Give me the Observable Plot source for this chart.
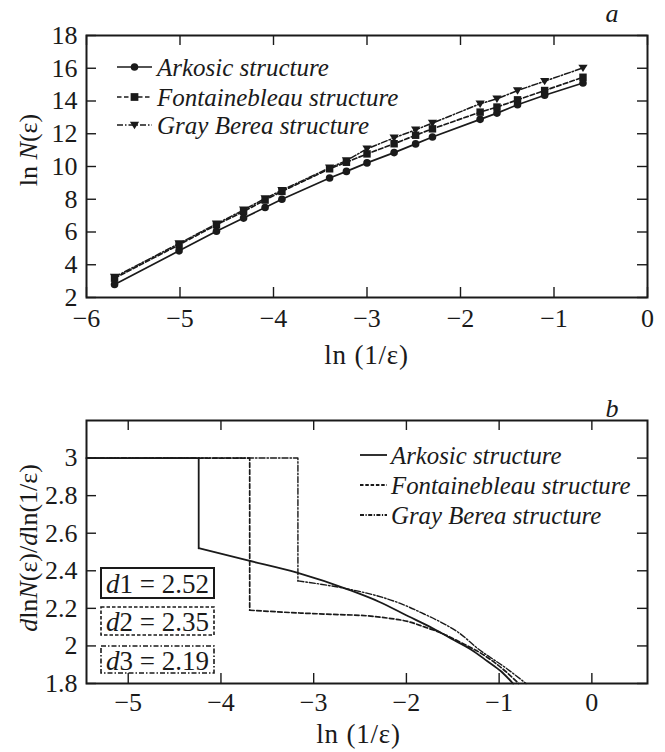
<!DOCTYPE html>
<html><head><meta charset="utf-8">
<script src="https://cdn.jsdelivr.net/npm/d3@7"></script>
<script src="https://cdn.jsdelivr.net/npm/@observablehq/plot@0.6"></script>
<style>
body{margin:0;background:#fff;}
#wrap{width:665px;}
svg{display:block;}
</style></head><body><div id="wrap"></div>
<script>
// ---------- Panel a data ----------
const lnInvEps = [-5.70, -5.01, -4.61, -4.32, -4.09, -3.91, -3.40, -3.22, -3.00, -2.71, -2.48, -2.30, -1.79, -1.61, -1.39, -1.10, -0.69];
const arkosicLnN = [2.80, 4.85, 6.05, 6.85, 7.50, 8.00, 9.30, 9.70, 10.22, 10.85, 11.38, 11.80, 12.88, 13.26, 13.77, 14.35, 15.10];
const fontaineLnN = [3.18, 5.22, 6.44, 7.25, 7.95, 8.48, 9.86, 10.26, 10.77, 11.39, 11.91, 12.30, 13.32, 13.63, 14.07, 14.64, 15.45];
const bereaLnN = [3.25, 5.30, 6.50, 7.35, 8.05, 8.55, 9.92, 10.36, 11.08, 11.75, 12.24, 12.65, 13.83, 14.13, 14.64, 15.21, 16.02];
const xTicksA = [-6, -5, -4, -3, -2, -1, 0];
const yTicksA = [2, 4, 6, 8, 10, 12, 14, 16, 18];

// ---------- Panel b data ----------
const arkosicX = [-5.45, -4.24, -4.24, -3.71, -3.18, -2.61, -2.29, -1.98, -1.75, -1.52, -1.30, -1.13, -0.98, -0.85];
const arkosicD = [3, 3, 2.52, 2.455, 2.39, 2.297, 2.234, 2.158, 2.103, 2.04, 1.98, 1.92, 1.865, 1.8];
const fontaineX = [-5.45, -3.69, -3.69, -3.14, -2.80, -2.42, -2.20, -1.96, -1.80, -1.63, -1.42, -1.13, -0.92, -0.79];
const fontaineD = [3, 3, 2.19, 2.175, 2.168, 2.16, 2.148, 2.127, 2.10, 2.07, 2.02, 1.94, 1.86, 1.8];
const bereaX = [-5.45, -3.17, -3.17, -2.60, -2.31, -2.06, -1.81, -1.63, -1.42, -1.24, -0.92, -0.71];
const bereaD = [3, 3, 2.346, 2.30, 2.266, 2.225, 2.17, 2.127, 2.065, 1.99, 1.88, 1.8];
const xTicksB = [-5, -4, -3, -2, -1, 0];
const yTicksB = [1.8, 2, 2.2, 2.4, 2.6, 2.8, 3];
const seriesNames = ["Arkosic structure", "Fontainebleau structure", "Gray Berea structure"];
const dimLabels = ["d1 = 2.52", "d2 = 2.35", "d3 = 2.19"];

const FONT = '"Liberation Serif", Tinos, "Times New Roman", Times, serif';
const INK = "#1a1a1a";
const DASH = "4.5,2.5";
const DASHDOT = "6,2,1.5,2";
const TICKFS = 26;
const fmt = d3.format("~g");

const triDown = {draw(ctx, size) {
  const s = Math.sqrt(size) * 0.62;
  ctx.moveTo(-s * 1.05, -s * 0.75);
  ctx.lineTo(s * 1.05, -s * 0.75);
  ctx.lineTo(0, s * 0.95);
  ctx.closePath();
}};

const toRows = (xs, ys) => xs.map((x, i) => ({x, y: ys[i]}));

function inwardTicks(xt, yt, fw, fh, len) {
  return [
    Plot.tickX(xt, {x: d => d, insetTop: fh - len, stroke: INK, strokeWidth: 1.4}),
    Plot.tickX(xt, {x: d => d, insetBottom: fh - len, stroke: INK, strokeWidth: 1.4}),
    Plot.tickY(yt, {y: d => d, insetRight: fw - len, stroke: INK, strokeWidth: 1.4}),
    Plot.tickY(yt, {y: d => d, insetLeft: fw - len, stroke: INK, strokeWidth: 1.4})
  ];
}

// step part (horizontal plateau + vertical drop) drawn linear, the rest as a smooth curve
function stepAndCurve(xs, ys, opts) {
  const rows = toRows(xs, ys);
  return [
    Plot.line(rows.slice(0, 3), {x: "x", y: "y", ...opts}),
    Plot.line(rows.slice(2), {x: "x", y: "y", curve: "monotone-x", ...opts})
  ];
}

// ---------- Panel a ----------
const A = {w: 665, h: 370, ml: 86, mr: 18, mt: 35, mb: 73};
const fwA = A.w - A.ml - A.mr, fhA = A.h - A.mt - A.mb;
const rowsAr = toRows(lnInvEps, arkosicLnN), rowsFo = toRows(lnInvEps, fontaineLnN), rowsGB = toRows(lnInvEps, bereaLnN);
const chartA = Plot.plot({
  width: A.w, height: A.h, marginLeft: A.ml, marginRight: A.mr, marginTop: A.mt, marginBottom: A.mb,
  style: {fontFamily: FONT, fontSize: TICKFS + "px", color: INK, background: "white"},
  x: {domain: [-6, 0]}, y: {domain: [2, 18]},
  marks: [
    Plot.axisX(xTicksA, {tickSize: 0, tickPadding: 11, label: null, fontSize: TICKFS, tickFormat: fmt}),
    Plot.axisY(yTicksA, {tickSize: 0, tickPadding: 9, label: null, fontSize: TICKFS, tickFormat: fmt}),
    ...inwardTicks(xTicksA, yTicksA, fwA, fhA, 10),
    Plot.line(rowsAr, {x: "x", y: "y", stroke: INK, strokeWidth: 1.7}),
    Plot.line(rowsFo, {x: "x", y: "y", stroke: INK, strokeWidth: 1.7, strokeDasharray: DASH}),
    Plot.line(rowsGB, {x: "x", y: "y", stroke: INK, strokeWidth: 1.5, strokeDasharray: DASHDOT}),
    Plot.dot(rowsGB, {x: "x", y: "y", r: 4, fill: INK, symbol: triDown}),
    Plot.dot(rowsFo, {x: "x", y: "y", r: 4.2, fill: INK, symbol: "square"}),
    Plot.dot(rowsAr, {x: "x", y: "y", r: 3.8, fill: INK, symbol: "circle"}),
    Plot.frame({stroke: INK, strokeWidth: 2})
  ]
});

// ---------- Panel b ----------
const B = {w: 665, h: 382, ml: 86, mr: 18, mt: 50, mb: 69};
const fwB = B.w - B.ml - B.mr, fhB = B.h - B.mt - B.mb;
const chartB = Plot.plot({
  width: B.w, height: B.h, marginLeft: B.ml, marginRight: B.mr, marginTop: B.mt, marginBottom: B.mb,
  style: {fontFamily: FONT, fontSize: TICKFS + "px", color: INK, background: "white"},
  x: {domain: [-5.45, 0.6]}, y: {domain: [1.8, 3.2]},
  marks: [
    Plot.axisX(xTicksB, {tickSize: 0, tickPadding: 9, label: null, fontSize: TICKFS, tickFormat: fmt}),
    Plot.axisY(yTicksB, {tickSize: 0, tickPadding: 9, label: null, fontSize: TICKFS, tickFormat: fmt}),
    ...inwardTicks(xTicksB, yTicksB, fwB, fhB, 10),
    ...stepAndCurve(bereaX, bereaD, {stroke: INK, strokeWidth: 1.4, strokeDasharray: DASHDOT}),
    ...stepAndCurve(fontaineX, fontaineD, {stroke: INK, strokeWidth: 1.7, strokeDasharray: DASH}),
    ...stepAndCurve(arkosicX, arkosicD, {stroke: INK, strokeWidth: 1.8}),
    Plot.frame({stroke: INK, strokeWidth: 2})
  ]
});

const wrap = document.getElementById("wrap");
wrap.appendChild(chartA);
wrap.appendChild(chartB);

// ---------- annotations ----------
function addText(svg, x, y, opts = {}) {
  return svg.append("text").attr("x", x).attr("y", y)
    .attr("font-family", FONT).attr("font-size", opts.size || 25)
    .attr("fill", INK).attr("text-anchor", opts.anchor || "start")
    .attr("letter-spacing", opts.ls || 0)
    .attr("dy", "0.35em").attr("font-style", opts.italic ? "italic" : "normal");
}

const sA = d3.select(chartA);
const sB = d3.select(chartB);

// panel labels
addText(sA, 612, 13, {anchor: "middle", italic: true, size: 26}).text("a");
addText(sB, 612, 38, {anchor: "middle", italic: true, size: 26}).text("b");

// axis titles
addText(sA, A.ml + fwA / 2, 355, {anchor: "middle", size: 27, ls: 0.8}).text("ln (1/ε)");
addText(sB, B.ml + fwB / 2 - 8, 364, {anchor: "middle", size: 27, ls: 0.8}).text("ln (1/ε)");
{
  const t = sA.append("text").attr("transform", "translate(28,150) rotate(-90)")
    .attr("font-family", FONT).attr("font-size", 26).attr("fill", INK).attr("text-anchor", "middle").attr("dy", "0.35em");
  t.append("tspan").text("ln ");
  t.append("tspan").attr("font-style", "italic").text("N");
  t.append("tspan").text("(ε)");
}
{
  const t = sB.append("text").attr("transform", "translate(28,178) rotate(-90)")
    .attr("font-family", FONT).attr("font-size", 26).attr("fill", INK).attr("text-anchor", "middle").attr("dy", "0.35em");
  t.append("tspan").attr("font-style", "italic").text("d");
  t.append("tspan").text("ln");
  t.append("tspan").attr("font-style", "italic").text("N");
  t.append("tspan").text("(ε)/");
  t.append("tspan").attr("font-style", "italic").text("d");
  t.append("tspan").text("ln(1/ε)");
}

// legend panel a
const legA = [{y: 67, dash: null, sym: d3.symbolCircle, sz: 45}, {y: 97, dash: DASH, sym: d3.symbolSquare, sz: 60}, {y: 125, dash: DASHDOT, sym: triDown, sz: 50}];
legA.forEach((L, i) => {
  sA.append("line").attr("x1", 117).attr("x2", 152).attr("y1", L.y).attr("y2", L.y)
    .attr("stroke", INK).attr("stroke-width", 1.7).attr("stroke-dasharray", L.dash);
  sA.append("path").attr("d", d3.symbol(L.sym, L.sz)()).attr("transform", `translate(134.5,${L.y})`).attr("fill", INK);
  addText(sA, 157, L.y, {italic: true, size: 25}).text(seriesNames[i]);
});

// legend panel b
const legB = [{y: 85, dash: null}, {y: 115, dash: "3.5,1.8"}, {y: 145, dash: "4,1.5,1.2,1.5"}];
legB.forEach((L, i) => {
  sB.append("line").attr("x1", 360).attr("x2", 387).attr("y1", L.y).attr("y2", L.y)
    .attr("stroke", INK).attr("stroke-width", 1.8).attr("stroke-dasharray", L.dash);
  addText(sB, 391, L.y, {italic: true, size: 24.8}).text(seriesNames[i]);
});

// d-value boxes
const boxes = [{y: 198, h: 30, dash: null, w: 2}, {y: 237, h: 28, dash: "3.5,2", w: 1.6}, {y: 276, h: 27, dash: "5,2,1.5,2", w: 1.6}];
boxes.forEach((b, i) => {
  sB.append("rect").attr("x", 101).attr("y", b.y).attr("width", 113).attr("height", b.h)
    .attr("fill", "white").attr("stroke", INK).attr("stroke-width", b.w).attr("stroke-dasharray", b.dash);
  const t = addText(sB, 157.5, b.y + b.h / 2 + 1, {anchor: "middle", size: 27});
  const parts = dimLabels[i];
  t.append("tspan").attr("font-style", "italic").text(parts[0]);
  t.append("tspan").text(parts.slice(1));
});
</script></body></html>
